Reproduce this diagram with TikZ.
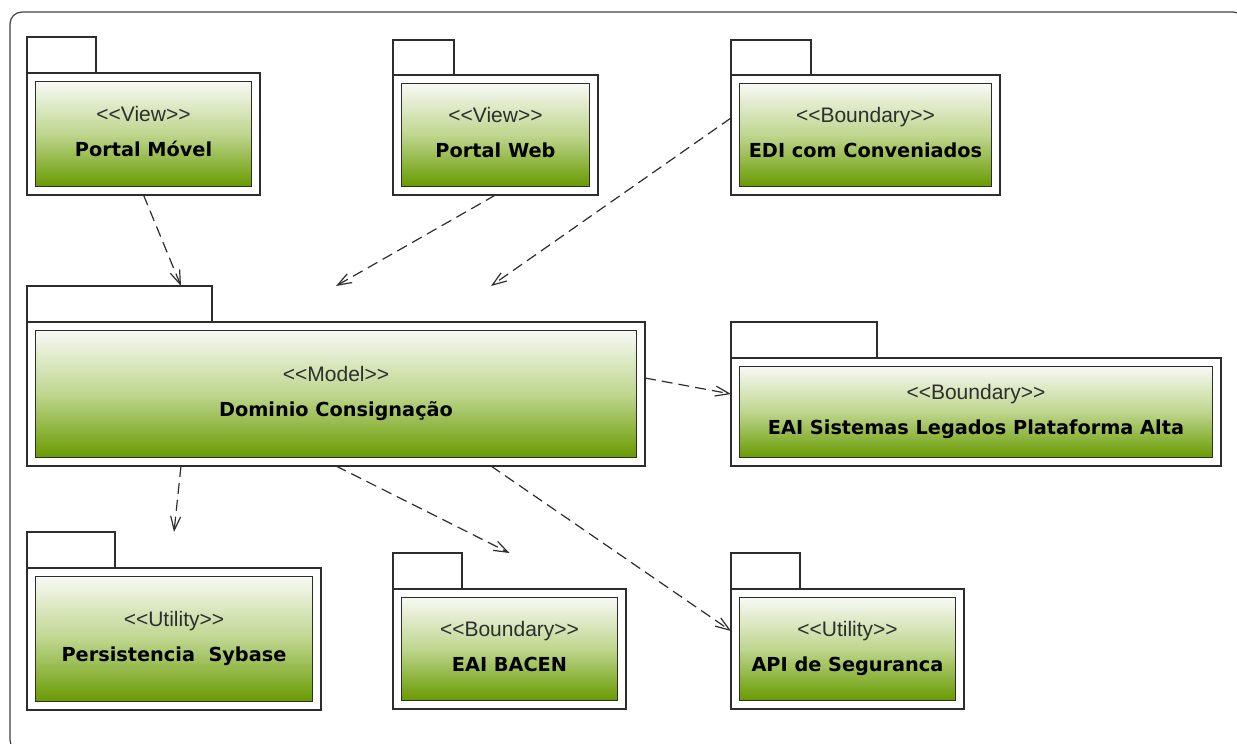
\documentclass[tikz,border=0pt]{standalone}
\usepackage{fontspec}
\setmainfont{Liberation Sans}
\newfontfamily\sterfont{Liberation Sans}
\newfontfamily\titlefont{DejaVu Sans}
\usetikzlibrary{arrows.meta,fit}
\definecolor{pkgtop}{RGB}{248,249,244}
\definecolor{pkgmid}{RGB}{190,214,142}
\definecolor{pkgbot}{RGB}{104,154,0}
\definecolor{lineclr}{RGB}{45,45,45}
\pgfdeclareverticalshading{pkgshade}{100bp}{color(0bp)=(pkgbot); color(25bp)=(pkgbot); color(50bp)=(pkgmid); color(75bp)=(pkgtop); color(100bp)=(pkgtop)}
\tikzset{
  pkgline/.style={draw=lineclr, line width=1.4pt},
  pkginner/.style={draw=lineclr, line width=1.6pt, shade, shading=pkgshade},
  stereo/.style={font=\sterfont\fontsize{21}{25}\selectfont, text=black!82, anchor=base, inner sep=0pt},
  pkgtitle/.style={font=\titlefont\bfseries\fontsize{19.3}{23}\selectfont, text=black, anchor=base, inner sep=0pt},
  dep/.style={draw=lineclr, line width=1.2pt, dash pattern=on 11pt off 6pt,
    -{Straight Barb[length=14pt,width=10pt,line width=1.2pt]}},
  pkgbox/.style={inner sep=0pt, outer sep=0pt},
}
% #1 name, #2 x1, #3 tab top, #4 tab right, #5 body top, #6 x2, #7 y2, #8 stereotype, #9 title
\newcommand{\umlpkg}[9]{%
  \node[pkgbox, fit={(#2,#3) (#6,#7)}] (#1) {};
  \node[pkgbox, pkgline, fill=white, fit={(#2,#3) (#4,#5)}] (#1-tab) {};
  \node[pkgbox, pkgline, fill=white, fit={(#2,#5) (#6,#7)}] (#1-body) {};
  \node[pkgbox, pkginner, fit={(#2+8.5,#5+8.5) (#6-8.5,#7-8.5)}] (#1-in) {};
  \node[stereo] (#1-st) at ([yshift=12.5pt]#1-in.center) {<{}<#8>{}>};
  \node[pkgtitle] (#1-ti) at ([yshift=-22.5pt]#1-in.center) {#9};
}
\begin{document}
\begin{tikzpicture}[x=1pt,y=-1pt]
\useasboundingbox (0,0) rectangle (1237,744);
\clip (0,0) rectangle (1237,744);
\draw[line width=1.2pt, draw=black!75, rounded corners=12pt] (10,12) rectangle (1245,752);

\umlpkg{pm}{27}{37}{96}{73}{260}{195}{View}{Portal Móvel}
\umlpkg{pw}{393}{40}{454}{75}{598}{195}{View}{Portal Web}
\umlpkg{edi}{731}{40}{811}{75}{1000}{195}{Boundary}{EDI com Conveniados}
\umlpkg{dm}{27}{286}{212}{322}{645}{466}{Model}{Dominio Consignação}
\umlpkg{eai}{731}{322}{877}{358}{1221}{466}{Boundary}{EAI Sistemas Legados Plataforma Alta}
\umlpkg{ps}{27}{532}{115}{568}{321}{710}{Utility}{Persistencia\ \ Sybase}
\umlpkg{bc}{393}{553}{462}{589}{626}{709}{Boundary}{EAI BACEN}
\umlpkg{api}{731}{553}{800}{589}{964}{709}{Utility}{API de Seguranca}

\draw[dep] (pm-body.south) -- ([xshift=-155pt]dm.north);
\draw[dep] (pw-body.south) -- (dm.north);
\draw[dep] ([yshift=17pt]edi-body.west) -- ([xshift=155pt]dm.north);
\draw[dep] ([yshift=16pt]dm-body.east) -- (eai.west);
\draw[dep] ([xshift=-155pt]dm-body.south) -- (ps.north);
\draw[dep] (dm-body.south) -- (bc.north);
\draw[dep] ([xshift=155pt]dm-body.south) -- (api.west);
\end{tikzpicture}
\end{document}
